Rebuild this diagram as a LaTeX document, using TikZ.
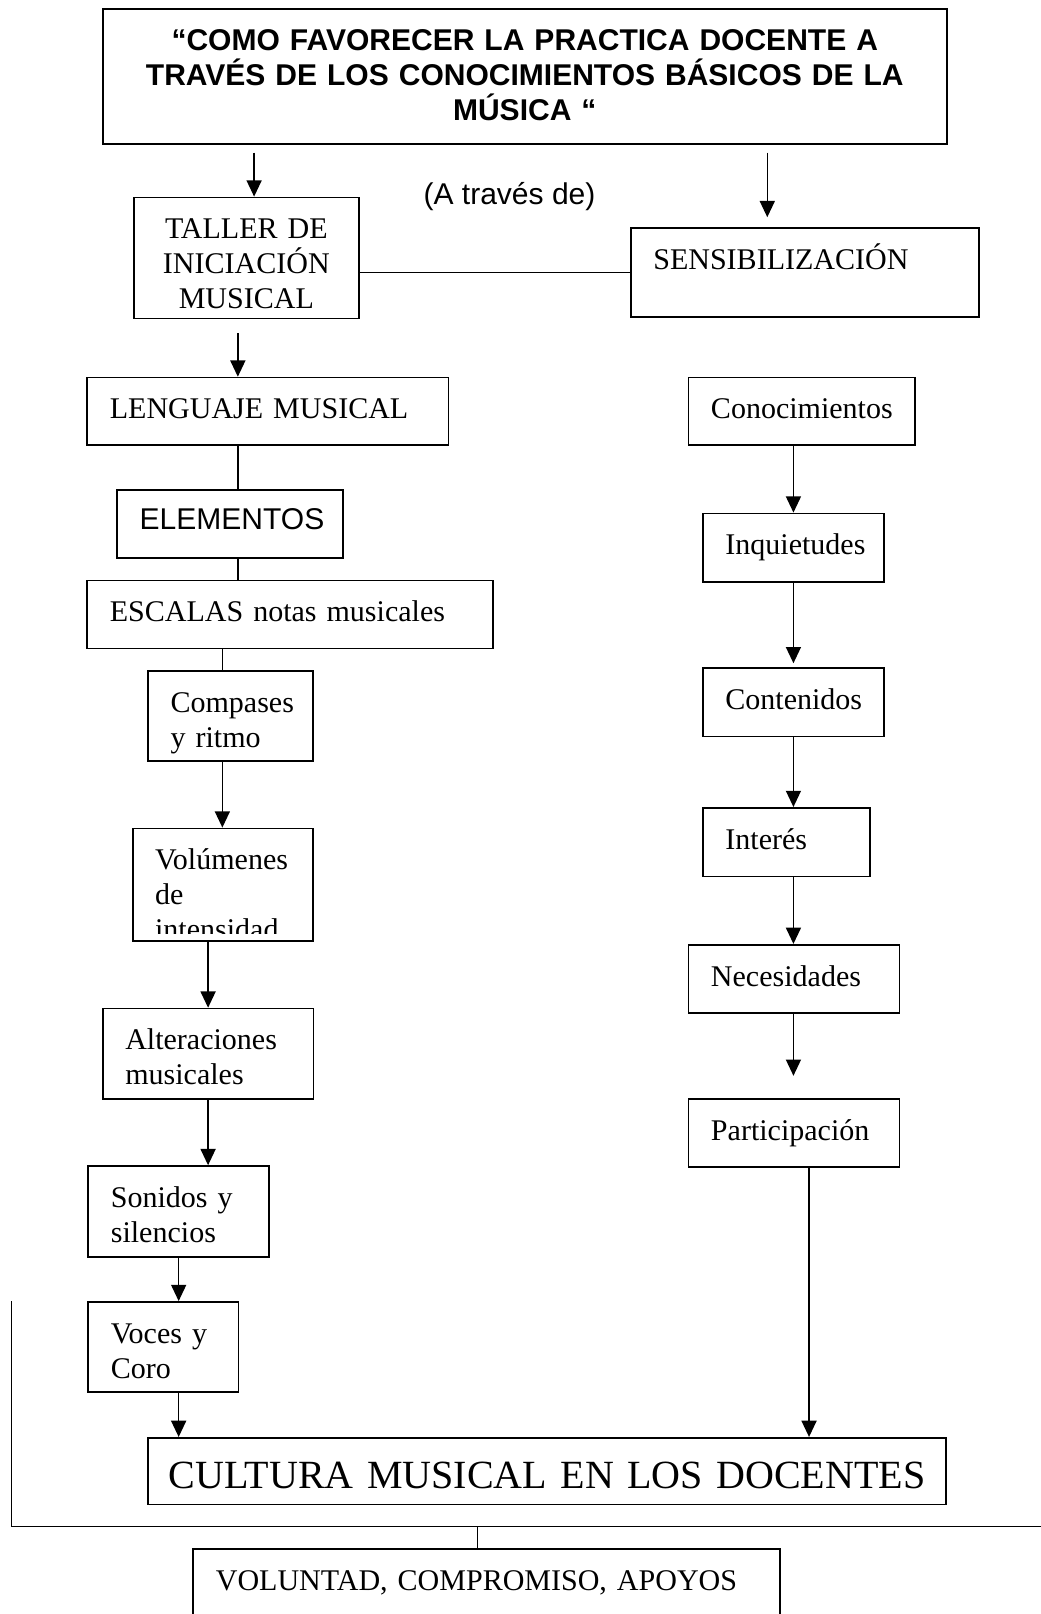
\documentclass[tikz,border=0pt]{standalone}
\usepackage{fontspec}
\setmainfont{Liberation Serif}
\setsansfont{Liberation Sans}
\usetikzlibrary{arrows.meta}
\hyphenpenalty=10000
\tikzset{
  caja/.style={draw, line width=0.7pt, anchor=north west, align=left,
    inner xsep=9pt, inner ysep=0pt, text height=16.5pt,
    font=\fontsize{12}{14}\selectfont},
  flecha/.style={line width=0.6pt, -{Triangle[length=6.5pt,width=6pt]}},
  linea/.style={line width=0.6pt}
}
\begin{document}
\begin{tikzpicture}[x=0.4115pt,y=-0.4115pt]
  \useasboundingbox (0,0) rectangle (1011,1568);
  % titulo
  \node[caja, align=center, text width=319.4pt, text depth=37.4pt,
    font=\fontsize{12}{14}\selectfont\sffamily\bfseries] (titulo) at (99,8)
    {“COMO FAVORECER LA PRACTICA DOCENTE A\\TRAVÉS DE LOS  CONOCIMIENTOS BÁSICOS DE LA\\MÚSICA “};
  \node[font=\fontsize{12}{14}\selectfont\sffamily] (atraves) at (495,191) {(A través de)};
  \node[caja, align=center, text width=72.1pt, text depth=31.9pt] (taller) at (129,191)
    {TALLER DE\\INICIACIÓN\\MUSICAL};
  \node[caja, text width=121.1pt, text depth=18.9pt] (sensib) at (612,221) {SENSIBILIZACIÓN};
  % columna izquierda
  \node[caja, text width=126.4pt, text depth=10.5pt] (lenguaje) at (84,366) {LENGUAJE MUSICAL};
  \node[caja, text width=72.3pt, text height=16pt, text depth=11.2pt,
    font=\fontsize{12}{14}\selectfont\sffamily] (elementos) at (113,475) {ELEMENTOS};
  \node[caja, text width=144.3pt, text depth=10.7pt] (escalas) at (84,563) {ESCALAS notas musicales};
  \node[caja, text width=48pt, text depth=19.6pt] (compases) at (143,651) {Compases\\y ritmo};
  \node[caja, text width=54.2pt, text depth=28.4pt] (volumenes) at (128,804) {};
  \begin{scope}
    \clip (volumenes.north west) rectangle ([yshift=3.2pt]volumenes.south east);
    \node[caja, draw=none, text width=54.2pt] (volumenesTxt) at (volumenes.north west)
      {Volúmenes\\de\\intensidad};
  \end{scope}
  \node[caja, text width=66.2pt, text depth=19.6pt] (alteraciones) at (99,979) {Alteraciones\\musicales};
  \node[caja, text width=54.2pt, text depth=19.7pt] (sonidos) at (85,1132) {Sonidos y\\silencios};
  \node[caja, text width=42pt, text depth=19.5pt] (voces) at (85,1264) {Voces y\\Coro};
  % columna derecha
  \node[caja, text width=72.5pt, text depth=10.5pt] (conoc) at (668,366) {Conocimientos};
  \node[caja, text width=54.4pt, text depth=10.9pt] (inquiet) at (682,498) {Inquietudes};
  \node[caja, text width=54.4pt, text depth=10.9pt] (conten) at (682,648) {Contenidos};
  \node[caja, text width=48.7pt, text depth=10.9pt] (interes) at (682,784) {Interés};
  \node[caja, text width=66.4pt, text depth=10.9pt] (necesid) at (668,917) {Necesidades};
  \node[caja, text width=66.4pt, text depth=10.5pt] (particip) at (668,1067) {Participación};
  % abajo
  \node[caja, align=center, inner xsep=2pt, text width=314.9pt, text height=20.4pt, text depth=6.2pt,
    font=\fontsize{16}{19}\selectfont] (cultura) at (143,1396) {CULTURA MUSICAL EN LOS DOCENTES};
  \node[caja, text width=216.4pt, text depth=24.5pt] (voluntad) at (187,1504)
    {VOLUNTAD, COMPROMISO, APOYOS};

  \draw[flecha, shorten <=3.1pt] ([xshift=3.1pt]taller.north |- titulo.south) -- ([xshift=3.1pt]taller.north);
  \draw[flecha, shorten <=3.1pt, shorten >=4.1pt] ([xshift=-15pt]sensib.north |- titulo.south) -- ([xshift=-15pt]sensib.north);
  \draw[linea] (sensib.west -| taller.east) -- (sensib.west);
  \draw[flecha, shorten <=5.6pt] ([xshift=-3.4pt]taller.south) -- ([xshift=-3.4pt]taller.south |- lenguaje.north);
  \draw[linea] ([xshift=3.1pt]elementos.north |- lenguaje.south) -- ([xshift=3.1pt]elementos.north);
  \draw[linea] ([xshift=3.1pt]elementos.south) -- ([xshift=3.1pt]elementos.south |- escalas.north);
  \draw[linea] ([xshift=-3.3pt]compases.north |- escalas.south) -- ([xshift=-3.3pt]compases.north);
  \draw[flecha] ([xshift=-3.3pt]compases.south) -- ([xshift=-3.3pt]compases.south |- volumenes.north);
  \draw[flecha] (alteraciones.north |- volumenes.south) -- (alteraciones.north);
  \draw[flecha] (alteraciones.south) -- (alteraciones.south |- sonidos.north);
  \draw[flecha] (sonidos.south) -- (sonidos.south |- voces.north);
  \draw[flecha] (sonidos.south |- voces.south) -- (sonidos.south |- cultura.north);

  \draw[flecha] (inquiet.north |- conoc.south) -- (inquiet.north);
  \draw[flecha, shorten >=1.5pt] (inquiet.south) -- (conten.north);
  \draw[flecha] (conten.south) -- (conten.south |- interes.north);
  \draw[flecha] (conten.south |- interes.south) -- (conten.south |- necesid.north);
  \draw[flecha, shorten >=9pt] (conten.south |- necesid.south) -- (conten.south |- particip.north);
  \draw[flecha] ([xshift=6pt]particip.south) -- ([xshift=6pt]particip.south |- cultura.north);

  \coordinate (corchIzq) at (11,1264);
  \coordinate (corchDer) at (1015,1483);
  \coordinate (corchMed) at (464,1483);
  \draw[linea] (corchIzq) |- (corchDer);
  \draw[linea] (corchMed) -- (corchMed |- voluntad.north);
\end{tikzpicture}
\end{document}
